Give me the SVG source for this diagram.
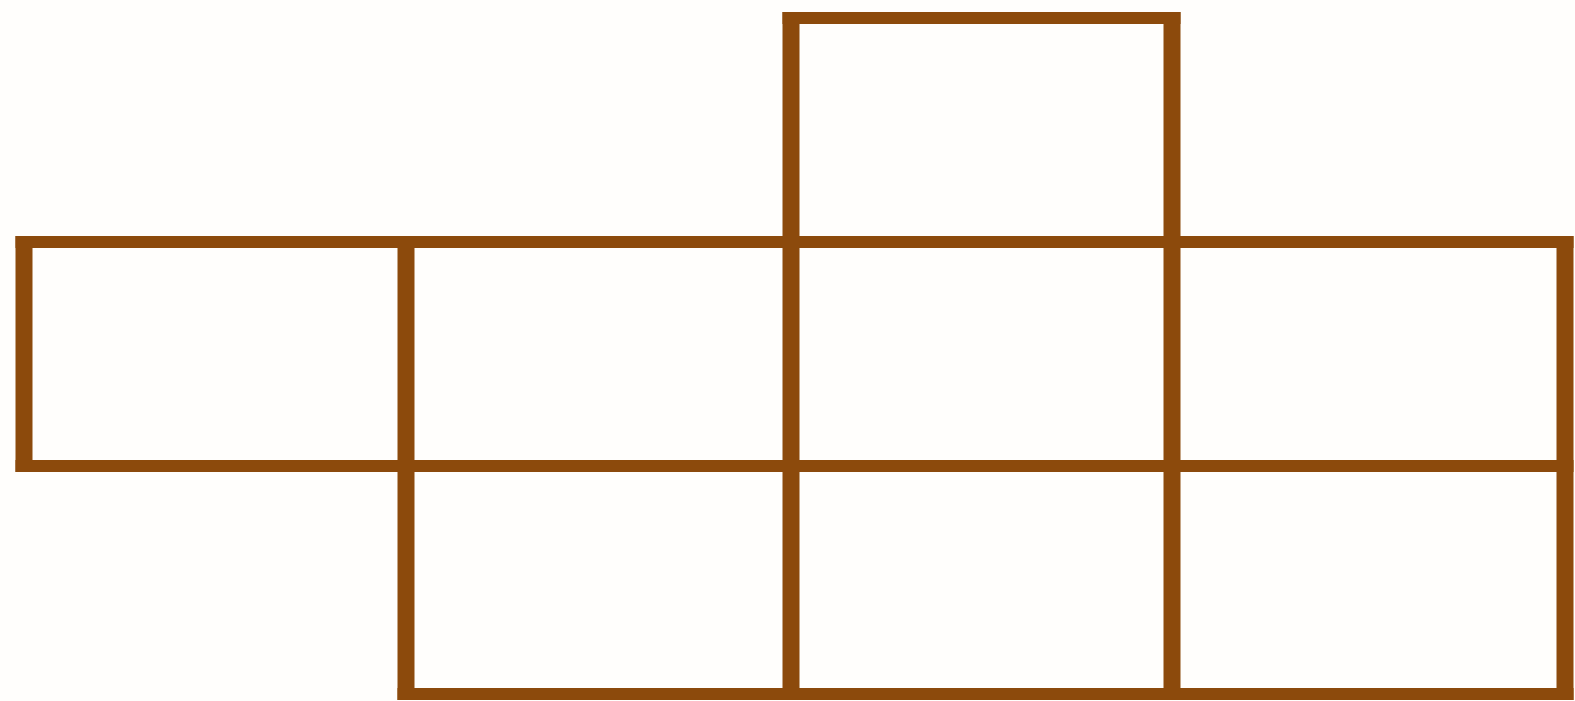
<svg xmlns="http://www.w3.org/2000/svg" width="1575" height="701" viewBox="0 0 1575 701">
<style>
.cell{fill:#fffefc;stroke:none}
.h{stroke:#8c4a0c;stroke-width:12;stroke-linecap:butt;fill:none}
.v{stroke:#8c4a0c;stroke-width:17;stroke-linecap:butt;fill:none}
</style>
<rect width="1575" height="701" fill="#fffefc"/>
<g id="cell-1"><rect class="cell" x="24" y="242" width="382" height="224"/></g>
<g id="cell-2"><rect class="cell" x="406" y="242" width="385" height="224"/></g>
<g id="cell-3"><rect class="cell" x="791" y="18" width="381" height="224"/></g>
<g id="cell-4"><rect class="cell" x="791" y="242" width="381" height="224"/></g>
<g id="cell-5"><rect class="cell" x="1172" y="242" width="393" height="224"/></g>
<g id="cell-6"><rect class="cell" x="406" y="466" width="385" height="228"/></g>
<g id="cell-7"><rect class="cell" x="791" y="466" width="381" height="228"/></g>
<g id="cell-8"><rect class="cell" x="1172" y="466" width="393" height="228"/></g>
<g id="lines">
<path class="h" d="M782.5 18H1180.5M15.5 242H1573.5M15.5 466H1573.5M397.5 694H1573.5"/>
<path class="v" d="M24 236V472M406 236V700M791 12V700M1172 12V700M1565 236V700"/>
</g>
</svg>
